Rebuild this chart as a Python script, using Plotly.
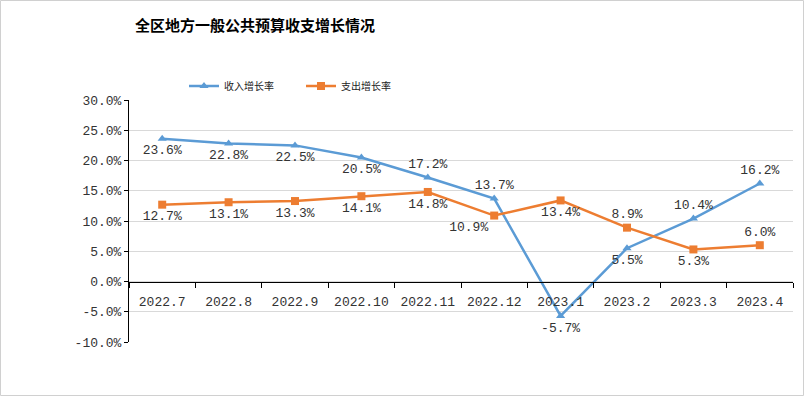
import plotly.graph_objects as go

categories = ["2022.7", "2022.8", "2022.9", "2022.10", "2022.11", "2022.12",
              "2023.1", "2023.2", "2023.3", "2023.4"]
income_growth = [23.6, 22.8, 22.5, 20.5, 17.2, 13.7, -5.7, 5.5, 10.4, 16.2]
expense_growth = [12.7, 13.1, 13.3, 14.1, 14.8, 10.9, 13.4, 8.9, 5.3, 6.0]
y_ticks = [-10, -5, 0, 5, 10, 15, 20, 25, 30]

income_pos = ["bottom center", "bottom center", "bottom center", "bottom center", "top center",
              "top center", "bottom center", "bottom center", "top center", "top center"]
expense_pos = ["bottom center", "bottom center", "bottom center", "bottom center", "bottom center",
               "bottom left", "bottom center", "top center", "bottom center", "top center"]

W, H = 804, 396
L, R, T, B = 129, 11, 100, 54
pw, ph = W - L - R, H - T - B

num_font = dict(family="Liberation Mono, DejaVu Sans Mono, Noto Sans CJK SC", size=13, color="#333")

fig = go.Figure()
fig.add_trace(go.Scatter(
    x=categories, y=income_growth, name="收入增长率", mode="lines+markers+text",
    line=dict(color="#5B9BD5", width=2.5),
    marker=dict(symbol="triangle-up", size=8, color="#5B9BD5"),
    text=[f"{v:.1f}%" for v in income_growth], textposition=income_pos,
    textfont=num_font, cliponaxis=False))
fig.add_trace(go.Scatter(
    x=categories, y=expense_growth, name="支出增长率", mode="lines+markers+text",
    line=dict(color="#ED7D31", width=2.5),
    marker=dict(symbol="square", size=8, color="#ED7D31"),
    text=[f"{v:.1f}%" for v in expense_growth], textposition=expense_pos,
    textfont=num_font, cliponaxis=False))

fig.update_layout(
    width=W, height=H,
    margin=dict(l=L, r=R, t=T, b=B),
    paper_bgcolor="white", plot_bgcolor="white",
    title=dict(text="<b>全区地方一般公共预算收支增长情况</b>", x=255 / W, xanchor="center",
               y=1 - 26 / H, yanchor="middle",
               font=dict(family="Noto Sans CJK SC", size=15, color="#000")),
    legend=dict(orientation="h", x=(184 - L) / pw, xanchor="left",
                y=(H - B - 86) / ph, yanchor="middle",
                font=dict(family="Noto Sans CJK SC", size=10, color="#222"),
                itemwidth=30, tracegroupgap=0, entrywidth=72),
    showlegend=True,
    xaxis=dict(
        type="category", anchor="free", position=10 / 40,
        showline=True, linecolor="#000", linewidth=1,
        ticks="outside", tickson="boundaries", ticklen=5, tickcolor="#000",
        ticklabelstandoff=8,
        showgrid=False, tickfont=num_font, range=[-0.5, 9.5]),
    yaxis=dict(
        range=[-10, 30], tickvals=y_ticks, ticktext=[f"{v:.1f}%" for v in y_ticks],
        showline=True, linecolor="#000", linewidth=1,
        ticks="outside", ticklen=4, tickcolor="#000",
        showgrid=True, gridcolor="#d9d9d9", gridwidth=1, zeroline=False,
        tickfont=num_font),
    shapes=[dict(type="rect", xref="paper", yref="paper",
                 x0=(-L + 0.5) / pw, x1=(W - L - 0.5) / pw,
                 y0=(-B + 0.5) / ph, y1=(H - B - 0.5) / ph,
                 line=dict(color="#d0d0d0", width=1), layer="below")],
)

fig.write_html("out.html", config={"displayModeBar": False},
               post_script="document.body.style.margin='0';document.body.style.padding='0';")
